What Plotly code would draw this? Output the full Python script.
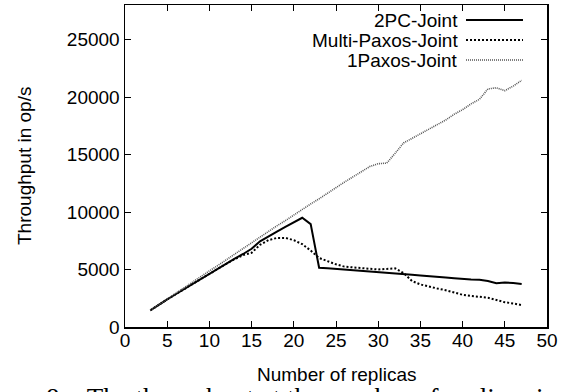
import plotly.graph_objects as go

replicas = list(range(3, 48))

two_pc = [1450, 1950, 2400, 2850, 3300, 3750, 4200, 4650, 5100, 5500,
          5950, 6350, 6800, 7450, 7900, 8300, 8700, 9100, 9500, 8950,
          5150, 5100, 5050, 5000, 4950, 4900, 4850, 4800, 4700, 4650,
          4600, 4550, 4480, 4400, 4350, 4300, 4230, 4150, 4120, 4100,
          4000, 3800, 3870, 3820, 3750]

multi_paxos = [1450, 1950, 2400, 2850, 3300, 3750, 4200, 4650, 5100, 5500,
               5900, 6250, 6450, 7150, 7550, 7750, 7750, 7550, 7200, 6650,
               6000, 5700, 5450, 5250, 5200, 5150, 5050, 5000, 5050, 5100,
               4700, 4000, 3700, 3500, 3350, 3200, 3000, 2800, 2700, 2600,
               2550, 2350, 2150, 2050, 1900]

one_paxos = [1450, 1950, 2450, 2900, 3400, 3900, 4400, 4880, 5350, 5850,
             6350, 6850, 7300, 7800, 8300, 8800, 9250, 9750, 10200, 10700,
             11150, 11650, 12100, 12600, 13050, 13500, 13950, 14200, 14250, 15100,
             16000, 16400, 16800, 17200, 17550, 18000, 18500, 18900, 19400, 19800,
             20700, 20800, 20550, 20950, 21450]

series_names = ["2PC-Joint", "Multi-Paxos-Joint", "1Paxos-Joint"]
x_ticks = [0, 5, 10, 15, 20, 25, 30, 35, 40, 45, 50]
y_ticks = [0, 5000, 10000, 15000, 20000, 25000]
y_tick_labels = ["0", "5000", "10000", "15000", "20000", "25000"]

FONT = "Liberation Sans, Arial, Helvetica, sans-serif"
styles = [
    dict(color="black", width=2, dash="solid"),
    dict(color="black", width=2, dash="2px,2px"),
    dict(color="#555555", width=1.6, dash="1px,1px"),
]

fig = go.Figure()
for name, ys, st in zip(series_names, [two_pc, multi_paxos, one_paxos], styles):
    fig.add_trace(go.Scatter(x=replicas, y=ys, mode="lines", name=name,
                             line=st, showlegend=False, hoverinfo="skip"))

# gnuplot-style legend (text right-aligned, sample line on the right)
L, R, T, B = 125, 547, 5, 327
W, H = R - L, B - T
def px(xp):
    return (xp - L) / W
def py(yp):
    return (B - yp) / H

legend_rows = [20, 40, 60]
for name, st, row in zip(series_names, styles, legend_rows):
    fig.add_annotation(xref="paper", yref="paper", x=px(460), y=py(row),
                       xanchor="right", yanchor="middle", text=name,
                       showarrow=False, font=dict(family=FONT, size=19, color="black"))
    fig.add_shape(type="line", xref="paper", yref="paper",
                  x0=px(466), x1=px(523), y0=py(row), y1=py(row), line=st)

# axis titles
fig.add_annotation(xref="paper", yref="paper", x=0.5, y=0, yshift=-47,
                   xanchor="center", yanchor="middle", text="Number of replicas",
                   showarrow=False, font=dict(family=FONT, size=19, color="black"))
fig.add_annotation(xref="paper", yref="paper", x=0, xshift=-101, y=0.5,
                   xanchor="center", yanchor="middle", text="Throughput in op/s",
                   textangle=-90, showarrow=False,
                   font=dict(family=FONT, size=19, color="black"))

# cut-off caption at the bottom of the page
fig.add_annotation(xref="paper", yref="paper", x=px(44), y=0, yshift=-(381 - B),
                   xanchor="left", yanchor="top",
                   text="8:   The throughput at the number of replicas in",
                   showarrow=False,
                   font=dict(family="Liberation Serif, DejaVu Serif, serif", size=27, color="black"))

axis_common = dict(showline=True, linecolor="black", linewidth=1.5, mirror="allticks",
                   ticks="inside", ticklen=6, tickwidth=1, tickcolor="black",
                   showgrid=False, zeroline=False,
                   tickfont=dict(family=FONT, size=19, color="black"))

fig.update_xaxes(range=[0, 50], tickvals=x_ticks, ticklabelstandoff=-4, **axis_common)
fig.update_yaxes(range=[0, 28000], tickvals=y_ticks, ticktext=y_tick_labels, **axis_common)

fig.update_layout(width=576, height=392,
                  margin=dict(l=L, r=576 - R, t=T, b=392 - B, autoexpand=False),
                  plot_bgcolor="white", paper_bgcolor="white",
                  hovermode=False,
                  font=dict(family=FONT, size=19, color="black"))

fig.write_html("out.html", config={"displayModeBar": False, "staticPlot": True},
               post_script="document.body.style.margin='0';")
